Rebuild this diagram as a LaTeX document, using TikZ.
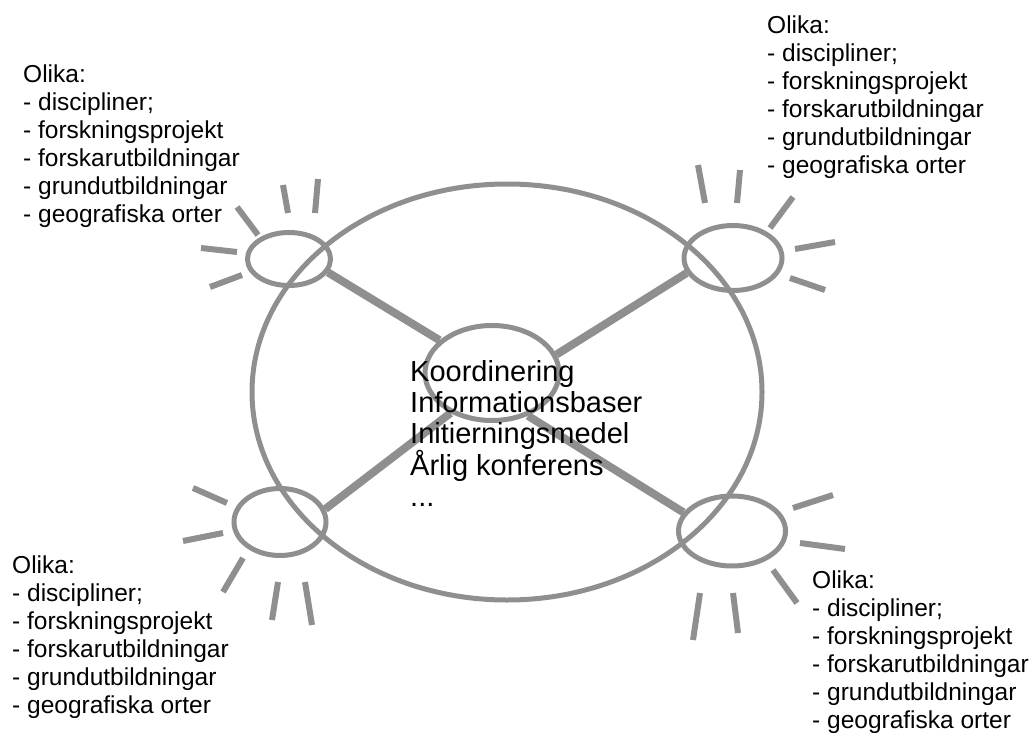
\documentclass[tikz,border=0pt]{standalone}
\usepackage{fontspec}
\setmainfont{Liberation Sans}
\usetikzlibrary{shapes.geometric}
\definecolor{ring}{HTML}{8F8F8F}

\begin{document}
\begin{tikzpicture}[x=1pt,y=-1pt,
	blob/.style={ellipse, draw=ring, line width=5pt, inner sep=0pt},
	spoke/.style={draw=ring, line width=8pt},
	ray/.style={draw=ring, line width=6pt},
	list/.style={anchor=north west, inner sep=0pt, align=left, font=\fontsize{24.5}{28}\selectfont}]
	\useasboundingbox (0,0) rectangle (1032,735);
	\draw [ring, line width=5pt] (507,392) ellipse [x radius=255, y radius=208];
	\node (c) at (492,373) [blob, minimum width=134pt, minimum height=95pt] {};
	\node (tl) at (289,259) [blob, minimum width=83pt, minimum height=53pt] {};
	\node (tr) at (733,258) [blob, minimum width=98pt, minimum height=65pt] {};
	\node (bl) at (280,522) [blob, minimum width=92pt, minimum height=67pt] {};
	\node (br) at (732,531) [blob, minimum width=107pt, minimum height=70pt] {};
	\draw [spoke] (tl.341) -- (c.148);
	\draw [spoke] (tr.198) -- (c.16);
	\draw [spoke] (bl.16) -- (c.224);
	\draw [spoke] (br.159) -- (c.310);
	% rays round the four small rings
	\foreach \xa/\ya/\xb/\yb in {237/207/258/235, 283/185/288/213, 318/179/315/213, 201/248/237/252, 210/287/242/275,
		698/165/705/203, 740/170/737/203, 793/197/770/228, 795/249/835/242, 790/278/825/290,
		193/488/227/503, 183/541/223/533, 243/558/223/592, 278/582/272/620, 305/582/312/625,
		793/508/833/495, 800/543/845/549, 773/570/797/603, 700/593/693/640, 733/593/738/633}
		\draw [ray] (\xa,\ya) -- (\xb,\yb);
	\node (ctext) at (410,360) [anchor=north west, inner sep=0pt, align=left, font=\fontsize{29}{31}\selectfont]
		{Koordinering\\Informationsbaser\\Initierningsmedel\\Årlig konferens\\...};
	\node (tltext) at (23,64.5) [list] {Olika:\\- discipliner;\\- forskningsprojekt\\- forskarutbildningar\\- grundutbildningar\\- geografiska orter};
	\node (trtext) at (767,15.5) [list] {Olika:\\- discipliner;\\- forskningsprojekt\\- forskarutbildningar\\- grundutbildningar\\- geografiska orter};
	\node (bltext) at (12,555.5) [list] {Olika:\\- discipliner;\\- forskningsprojekt\\- forskarutbildningar\\- grundutbildningar\\- geografiska orter};
	\node (brtext) at (812,570.5) [list] {Olika:\\- discipliner;\\- forskningsprojekt\\- forskarutbildningar\\- grundutbildningar\\- geografiska orter};
\end{tikzpicture}
\end{document}
